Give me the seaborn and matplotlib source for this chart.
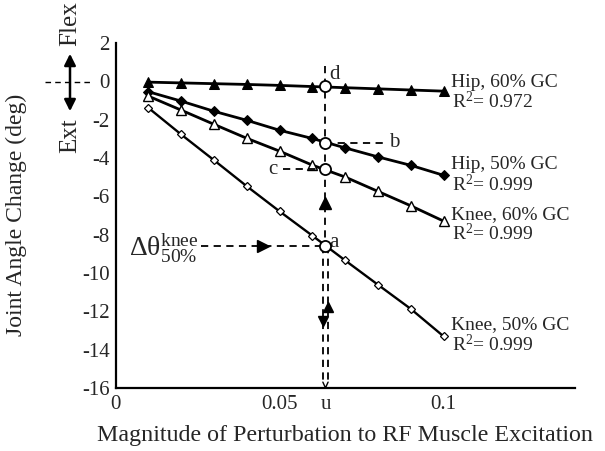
import numpy as np
import pandas as pd
import matplotlib
matplotlib.use('Agg')
import matplotlib.pyplot as plt
import seaborn as sns

# data
excitation = [0.01, 0.02, 0.03, 0.04, 0.05, 0.06, 0.07, 0.08, 0.09, 0.10]
hip_60 = [-0.05, -0.09, -0.13, -0.17, -0.22, -0.28, -0.34, -0.40, -0.46, -0.52]
hip_50 = [-0.55, -1.04, -1.57, -2.04, -2.56, -2.99, -3.48, -3.95, -4.39, -4.91]
knee_60 = [-0.78, -1.51, -2.25, -2.98, -3.65, -4.38, -5.00, -5.75, -6.50, -7.30]
knee_50 = [-1.39, -2.78, -4.12, -5.48, -6.79, -8.06, -9.35, -10.62, -11.88, -13.31]

u = 0.064
point_names = ['a', 'b', 'c', 'd']
point_values = [-8.62, -3.2, -4.6, -0.26]

series_names = ['Hip, 60% GC', 'Hip, 50% GC', 'Knee, 60% GC', 'Knee, 50% GC']
r_squared = ['0.972', '0.999', '0.999', '0.999']

x_ticks = [0, 0.05, u, 0.1]
x_ticklabels = ['0', '0.05', 'u', '0.1']
y_ticks = [2, 0, -2, -4, -6, -8, -10, -12, -14, -16]

df = pd.DataFrame({'x': excitation, 'hip60': hip_60, 'hip50': hip_50,
                   'knee60': knee_60, 'knee50': knee_50})

sns.set_style('white')
plt.rcParams['font.family'] = ['Liberation Serif', 'DejaVu Serif']
plt.rcParams['mathtext.fontset'] = 'custom'
plt.rcParams['mathtext.rm'] = 'Liberation Serif'
plt.rcParams['mathtext.it'] = 'Liberation Serif:italic'
plt.rcParams['axes.unicode_minus'] = False

fig = plt.figure(figsize=(6.05, 4.51), dpi=100)
ax = fig.add_axes([0.191, 0.140, 0.759, 0.765])

lw = 2.0
sns.lineplot(data=df, x='x', y='hip60', ax=ax, color='black', lw=lw,
             marker='^', markersize=7, markerfacecolor='black', markeredgecolor='black')
sns.lineplot(data=df, x='x', y='hip50', ax=ax, color='black', lw=lw,
             marker='D', markersize=5.5, markerfacecolor='black', markeredgecolor='black')
sns.lineplot(data=df, x='x', y='knee60', ax=ax, color='black', lw=lw,
             marker='^', markersize=7, markerfacecolor='white', markeredgecolor='black',
             markeredgewidth=1.0)
sns.lineplot(data=df, x='x', y='knee50', ax=ax, color='black', lw=1.7,
             marker='D', markersize=4.5, markerfacecolor='white', markeredgecolor='black',
             markeredgewidth=0.9)

dash = dict(color='black', lw=1.3, ls=(0, (4, 3)))
a_y, b_y, c_y, d_y = point_values

# vertical guide at u
ax.plot([u, u], [0.8, a_y], **dash)
ax.plot([u - 0.0008, u - 0.0008], [a_y, -15.7], **dash)
ax.plot([u + 0.0008, u + 0.0008], [a_y, -15.7], **dash)
ax.plot([u - 0.0008, u, u + 0.0008], [-15.7, -16, -15.7], color='black', lw=1.0)
# horizontal guides
ax.plot([u, 0.082], [b_y, b_y], **dash)
ax.plot([0.051, u], [c_y, c_y], **dash)
ax.plot([0.026, u], [a_y, a_y], **dash)

# arrow heads
ax.plot([u], [-6.35], marker='^', color='black', markersize=8, ls='none')
ax.plot([0.045], [a_y], marker='>', color='black', markersize=8, ls='none')
ax.plot([u - 0.0008], [-12.5], marker='v', color='black', markersize=7, ls='none')
ax.plot([u + 0.0008], [-11.8], marker='^', color='black', markersize=7, ls='none')

# marked points
ax.plot([u] * 4, point_values, ls='none', marker='o', markersize=8,
        markerfacecolor='white', markeredgecolor='black', markeredgewidth=1.3, zorder=5)
fs = 15
ax.text(u + 0.0012, d_y + 0.1, 'd', fontsize=fs, ha='left', va='bottom')
ax.text(0.0835, b_y, 'b', fontsize=fs, ha='left', va='center')
ax.text(0.0495, c_y, 'c', fontsize=fs, ha='right', va='center')
ax.text(u + 0.0012, a_y + 0.2, 'a', fontsize=fs, ha='left', va='center')
ax.text(0.0042, a_y - 0.1, r'$\mathrm{Δθ}^{\mathrm{knee}}_{\mathrm{50\%}}$', fontsize=20,
        ha='left', va='center')

# series labels (baselines)
name_y = [-0.28, -4.56, -7.22, -12.91]
r2_y = [-1.43, -5.71, -8.27, -14.06]
lab = 14
for name, r2, ny, ry in zip(series_names, r_squared, name_y, r2_y):
    ax.text(0.1024, ny, name, fontsize=lab, ha='left', va='baseline')
    ax.text(0.1026, ry, r'R$^2$= ' + r2, fontsize=lab, ha='left', va='baseline')

ax.set_xlim(0, 0.14)
ax.set_ylim(-16, 2)
ax.set_xticks(x_ticks)
ax.set_xticklabels(x_ticklabels)
ax.set_yticks(y_ticks)
ax.tick_params(direction='in', length=7, width=1.5, labelsize=15, pad=4)
ax.tick_params(axis='x', pad=5)
sns.despine(ax=ax)
for s in ['left', 'bottom']:
    ax.spines[s].set_linewidth(1.6)
    ax.spines[s].set_color('black')

ax.set_xlabel('Magnitude of Perturbation to RF Muscle Excitation', fontsize=17.3, labelpad=8)
ax.set_ylabel('Joint Angle Change (deg)', fontsize=17)
ax.yaxis.set_label_coords(-(116 - 27) / (0.759 * 605), 0.5)

# Flex / Ext indicator outside the axes
def px(x, y):
    return (x / 605, 1 - y / 451)

fig.add_artist(plt.Line2D([45 / 605, 93 / 605], [1 - 81.7 / 451] * 2,
                          transform=fig.transFigure, color='black', lw=1.0, ls=(0, (4, 3))))
fig.add_artist(matplotlib.patches.FancyArrowPatch(px(70, 114), px(70, 51),
               transform=fig.transFigure, arrowstyle='<|-|>', mutation_scale=17,
               color='black', lw=1.8))
fig.text(*px(70, 24), 'Flex', rotation=90, fontsize=18, ha='center', va='center')
fig.text(*px(70, 136), 'Ext', rotation=90, fontsize=18, ha='center', va='center')

fig.savefig('out.png', dpi=100)
